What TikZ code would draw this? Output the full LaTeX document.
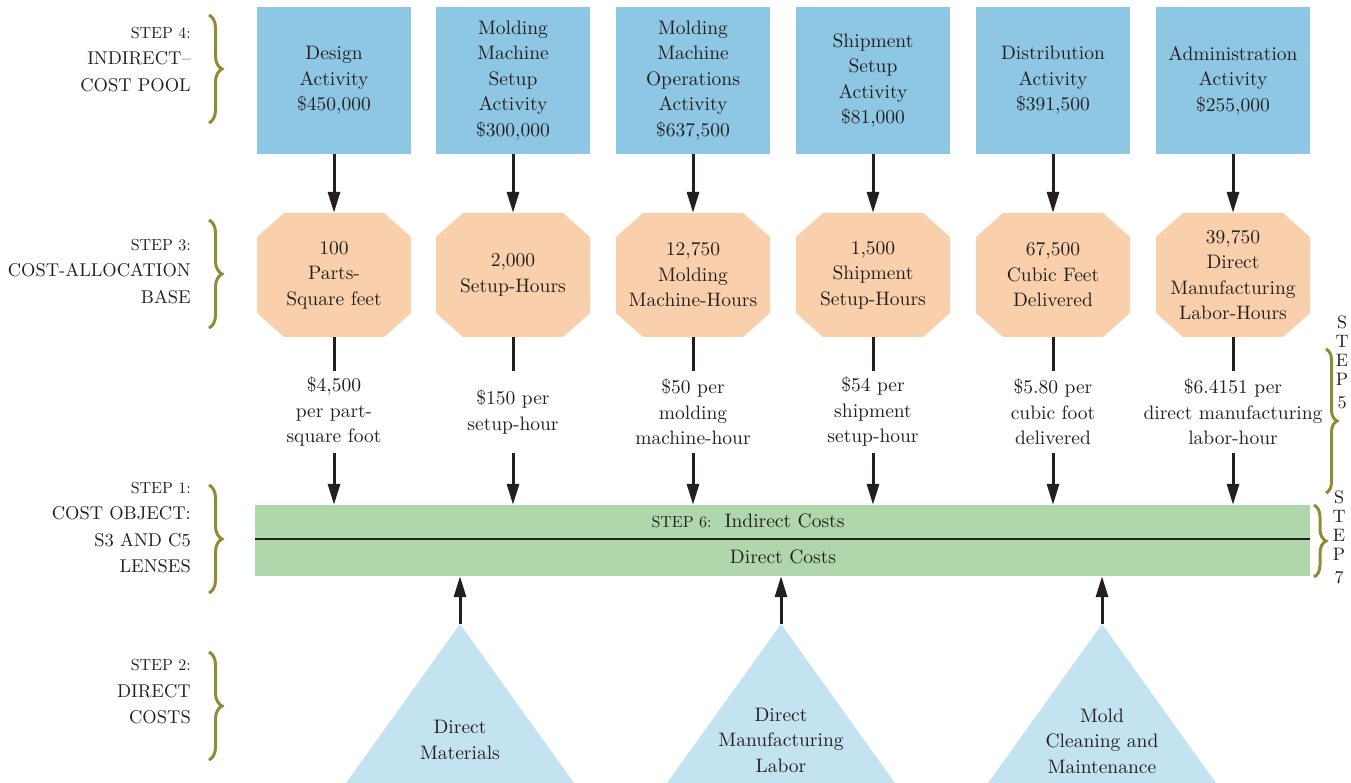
\documentclass[tikz,border=0pt]{standalone}
\usepackage{fontspec}
\setmainfont{lmroman10-regular.otf}
\usetikzlibrary{arrows.meta,decorations.pathreplacing}
\definecolor{boxblue}{HTML}{8EC7E3}
\definecolor{octo}{HTML}{FACFAB}
\definecolor{barg}{HTML}{AFD7AB}
\definecolor{tri}{HTML}{C4E3F1}
\definecolor{brc}{HTML}{8F8B36}
\definecolor{txt}{HTML}{231F20}
\newcommand\fbody{\fontsize{19.5}{25.5}\selectfont}
\newcommand\fcap{\fontsize{18.5}{26.5}\selectfont}
\newcommand\fstep{\fontsize{16}{26.5}\selectfont}
\newcommand\fvert{\fontsize{18}{19}\selectfont}
\tikzset{
  pool/.style={fill=boxblue, minimum width=154, minimum height=147, inner sep=0pt, align=center, text=txt, font=\fbody},
  base/.style={minimum width=154, minimum height=124, inner sep=0pt, align=center, text=txt, font=\fbody,
    path picture={\fill[octo]
      ([xshift=27]path picture bounding box.north west) --
      ([xshift=-27]path picture bounding box.north east) --
      ([yshift=-24]path picture bounding box.north east) --
      ([yshift=24]path picture bounding box.south east) --
      ([xshift=-27]path picture bounding box.south east) --
      ([xshift=27]path picture bounding box.south west) --
      ([yshift=24]path picture bounding box.south west) --
      ([yshift=-24]path picture bounding box.north west) -- cycle;}},
  rate/.style={minimum height=82, inner sep=0pt, align=center, text=txt, font=\fbody},
  arr/.style={line width=3pt, draw=txt, -{Triangle[length=21pt,width=12pt]}},
  conn/.style={line width=3pt, draw=txt},
  lbl/.style={anchor=east, align=right, text=txt, font=\fcap, inner sep=0pt},
  vlbl/.style={align=center, text=txt, font=\fvert, inner sep=0pt},
  brc/.style={draw=brc, line width=3pt, decorate, decoration={brace, amplitude=13pt}},
  tritext/.style={align=center, text=txt, font=\fbody, inner sep=0pt},
  bartext/.style={text=txt, font=\fbody, inner sep=0pt}
}
\begin{document}
\begin{tikzpicture}[x=1pt,y=-1pt]
\useasboundingbox (0,0) rectangle (1351,783);

% Step 4 pools
\node[pool] (p1) at (334,80.5) {Design\\Activity\\\$450,000};
\node[pool] (p2) at (513,80.5) {Molding\\Machine\\Setup\\Activity\\\$300,000};
\node[pool] (p3) at (693,80.5) {Molding\\Machine\\Operations\\Activity\\\$637,500};
\node[pool] (p4) at (873,80.5) {Shipment\\Setup\\Activity\\\$81,000};
\node[pool] (p5) at (1053,80.5) {Distribution\\Activity\\\$391,500};
\node[pool] (p6) at (1233,80.5) {Administration\\Activity\\\$255,000};

% Step 3 bases
\node[base] (b1) at (334,275) {100\\Parts-\\Square feet};
\node[base] (b2) at (513,275) {2,000\\Setup-Hours};
\node[base] (b3) at (693,275) {12,750\\Molding\\Machine-Hours};
\node[base] (b4) at (873,275) {1,500\\Shipment\\Setup-Hours};
\node[base] (b5) at (1053,275) {67,500\\Cubic Feet\\Delivered};
\node[base] (b6) at (1233,275) {39,750\\Direct\\Manufacturing\\Labor-Hours};

% Step 5 rates
\node[rate] (r1) at (334,412) {\$4,500\\per part-\\square foot};
\node[rate] (r2) at (513,412) {\$150 per\\setup-hour};
\node[rate] (r3) at (693,412) {\$50 per\\molding\\machine-hour};
\node[rate] (r4) at (873,412) {\$54 per\\shipment\\setup-hour};
\node[rate] (r5) at (1053,412) {\$5.80 per\\cubic foot\\delivered};
\node[rate] (r6) at (1233,412) {\$6.4151 per\\direct manufacturing\\labor-hour};

% Cost object bar
\node[fill=barg, minimum width=1055, minimum height=71, inner sep=0pt] (bar) at (782.5,540.5) {};
\draw[line width=1.3pt, draw=txt] (bar.west |- 0,539) -- (bar.east |- 0,539);
\node[bartext] (ind) at (748,521) {{\fstep STEP 6:}\ \ Indirect Costs};
\node[bartext] (dir) at (783,557) {Direct Costs};

% Direct cost triangles
\coordinate (t1) at (460,624);
\coordinate (t2) at (781,624);
\coordinate (t3) at (1102,624);
\foreach \c in {t1,t2,t3}{
  \fill[tri] (\c) -- ++(-114,159) -- ++(228,0) -- cycle;
}
\node[tritext] (d1) at (460,740) {Direct\\Materials};
\node[tritext] (d2) at (781,740) {Direct\\Manufacturing\\Labor};
\node[tritext] (d3) at (1102,741) {Mold\\Cleaning and\\Maintenance};

% connectors
\foreach \i in {1,...,6}{
  \draw[arr] (p\i) -- (b\i);
  \draw[conn] (b\i) -- (r\i);
  \draw[arr] (r\i) -- (bar.north -| r\i);
}
\foreach \c in {t1,t2,t3}{
  \draw[arr] (\c) -- (bar.south -| \c);
}

% left labels
\node[lbl] (l4) at (191,59.5) {{\fstep STEP 4:}\\INDIRECT--\\COST POOL};
\node[lbl] (l3) at (191,271.5) {{\fstep STEP 3:}\\COST-ALLOCATION\\BASE};
\node[lbl] (l1) at (191,527.5) {{\fstep STEP 1:}\\COST OBJECT:\\S3 AND C5\\LENSES};
\node[lbl] (l2) at (191,692) {{\fstep STEP 2:}\\DIRECT\\COSTS};

% left braces
\draw[brc] (209,15) -- (209,123);
\draw[brc] (209,220) -- (209,328);
\draw[brc] (209,485) -- (209,593);
\draw[brc] (209,652) -- (209,760);

% right labels and braces
\node[vlbl] (s5) at (1342,362) {S\\T\\E\\P\\[4pt]5};
\node[vlbl] (s7) at (1339,537) {S\\T\\E\\P\\[4pt]7};
\draw[brc, decoration={brace, amplitude=11pt}] (1326,349) -- (1326,493);
\draw[brc, decoration={brace, amplitude=12pt}] (1314,505) -- (1314,577);
\end{tikzpicture}
\end{document}
